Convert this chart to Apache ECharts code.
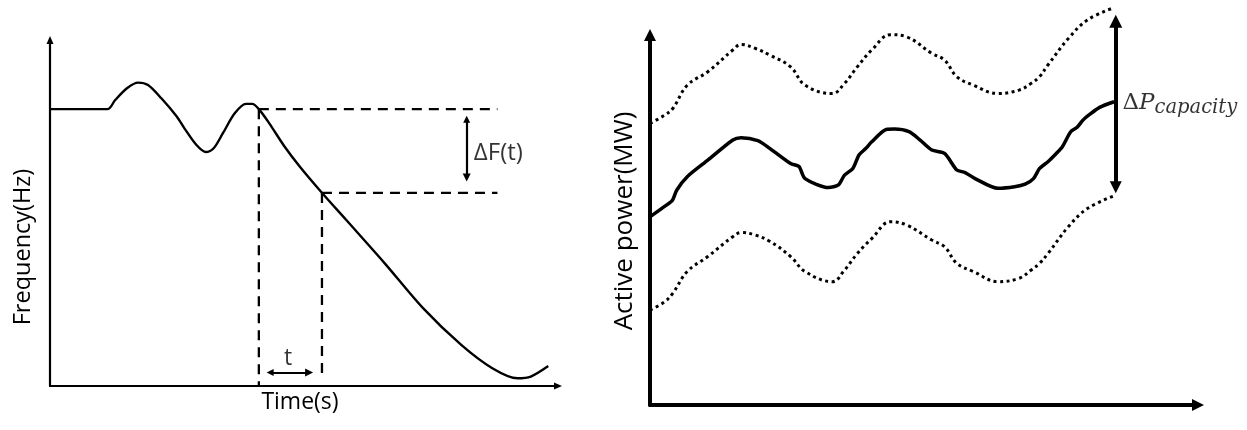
<!DOCTYPE html>
<html><head><meta charset="utf-8">
<script src="https://cdn.jsdelivr.net/npm/echarts@6/dist/echarts.min.js"></script>
<style>html,body{margin:0;padding:0;background:#fff}#c{width:1247px;height:430px}</style>
</head><body><div id="c"></div>
<script>
// ---------- Left panel: frequency vs time (arbitrary units 0..100) ----------
const freqX = [0, 11.2, 12.7, 15.0, 17.2, 19.1, 21.7, 24.7, 26.2, 28.5, 30.4, 31.9, 33.7, 36.0, 38.2, 39.4, 40.7, 42.7, 45.7, 48.7, 52.9, 57.7, 65.2, 72.7, 80.2, 86.2, 91.1, 93.7, 97.1];
const freqY = [79.3, 79.3, 81.9, 85.3, 86.9, 86.2, 82.4, 77.2, 73.8, 69.1, 67.0, 68.1, 72.4, 78.1, 80.8, 80.8, 79.3, 75.3, 68.6, 62.8, 55.5, 47.6, 35.2, 22.3, 11.7, 5.1, 2.2, 2.7, 5.7];
// dashed guide lines [x1, y1, x2, y2]
const guideTop = [40.7, 79.3, 87.2, 79.3];
const guideLow = [53.0, 55.3, 87.2, 55.3];
const guideV1 = [40.7, 79.3, 40.7, 0];
const guideV2 = [53.0, 55.3, 53.0, 3.2];
// double arrows [x1, y1, x2, y2]
const deltaFArrow = [81.2, 76.4, 81.2, 59.7];
const tArrow = [42.9, 3.9, 50.5, 3.9];
// annotation anchors
const deltaFLabelPos = [82.6, 66.8];
const tLabelPos = [46.4, 8.0];

// ---------- Right panel: active power (arbitrary units 0..100) ----------
const boundX = [0, 2.6, 4.1, 6.7, 10.4, 14.9, 16.4, 19.0, 21.6, 25.3, 27.9, 32.8, 35.0, 37.3, 39.9, 43.3, 46.2, 50.7, 53.0, 55.2, 58.2, 62.6, 66.4, 68.6, 70.1, 71.6, 75.3, 78.7, 83.5];
const upperY = [75.1, 77.3, 79.1, 85.3, 88.9, 94.7, 96.2, 95.1, 93.3, 90.2, 85.3, 83.1, 85.8, 90.2, 94.7, 98.8, 98.2, 93.8, 92.0, 87.6, 85.3, 83.1, 84.0, 85.8, 87.6, 90.7, 97.8, 102.7, 106.0];
const lowerY = [25.3, 27.5, 29.8, 35.6, 39.6, 44.9, 46.0, 45.3, 43.6, 39.6, 35.6, 32.9, 36.0, 40.4, 44.4, 48.9, 48.0, 44.0, 42.2, 37.8, 35.6, 32.9, 33.8, 36.0, 37.8, 40.4, 47.6, 52.4, 55.8];
const powerX = [0, 2.95, 4.07, 4.8, 6.7, 10.4, 14.9, 16.4, 19.4, 21.6, 25.3, 26.8, 27.9, 32.1, 33.9, 35.0, 36.5, 37.6, 38.8, 39.9, 42.5, 44.0, 46.6, 48.5, 50.7, 53.0, 55.2, 56.7, 58.5, 62.6, 65.6, 67.5, 69.0, 70.1, 71.6, 73.1, 74.2, 75.7, 76.8, 77.9, 79.1, 80.9, 83.5];
const powerY = [50.2, 53.3, 54.7, 57.3, 60.9, 65.3, 70.7, 71.3, 70.5, 68.4, 64.4, 63.6, 60.4, 58.0, 58.7, 61.3, 63.1, 66.7, 68.4, 70.2, 73.5, 73.6, 72.9, 70.8, 68.0, 67.1, 62.7, 62.0, 60.4, 57.8, 58.2, 58.9, 60.4, 63.1, 64.9, 67.1, 68.9, 72.9, 74.0, 76.0, 77.5, 79.4, 80.9];
const capacityArrow = [83.8, 102.4, 83.8, 58.1];
const capacityLabelPos = [85.0, 80.5];

// ---------- Text ----------
const leftYTitle = 'Frequency(Hz)';
const leftXTitle = 'Time(s)';
const rightYTitle = 'Active power(MW)';

const zip = (xs, ys) => xs.map((x, i) => [x, ys[i]]);
const seg = a => [[a[0], a[1]], [a[2], a[3]]];
const SANS = '"Open Sans", "Noto Sans", sans-serif';
const SERIF = '"DejaVu Serif", "Liberation Serif", serif';

function axis(grid, max, width, arrow) {
  return {
    type: 'value', gridIndex: grid, min: 0, max: max,
    axisLine: { show: true, onZero: false, symbol: ['none', 'triangle'], symbolSize: arrow,
      lineStyle: { color: '#000', width: width } },
    axisTick: { show: false }, axisLabel: { show: false }, splitLine: { show: false }
  };
}
function dashed(a) {
  return { type: 'line', xAxisIndex: 0, yAxisIndex: 0, data: seg(a), symbol: 'none', silent: true,
    lineStyle: { color: '#000', width: 2.3, type: [10, 7] } };
}
function dblArrow(g, a, w, size) {
  return { type: 'lines', coordinateSystem: 'cartesian2d', xAxisIndex: g, yAxisIndex: g, clip: false, silent: true,
    symbol: ['triangle', 'triangle'], symbolSize: size,
    lineStyle: { color: '#000', width: w, opacity: 1, curveness: 0 },
    data: [{ coords: seg(a) }] };
}
function textAt(g, pos, fmt, extra) {
  return { type: 'scatter', xAxisIndex: g, yAxisIndex: g, data: [pos], symbolSize: 0, silent: true, clip: false,
    label: Object.assign({ show: true, position: 'right', distance: 0, formatter: fmt, color: '#000',
      fontFamily: SANS, fontSize: 24 }, extra || {}) };
}

const chart = echarts.init(document.getElementById('c'), null, { renderer: 'canvas' });
chart.setOption({
  animation: false,
  backgroundColor: '#fff',
  grid: [
    { left: 50, right: 689, top: 40, bottom: 44 },
    { left: 650, right: 49, top: 35, bottom: 25 }
  ],
  xAxis: [axis(0, 99.0, 2.2, [7, 8]), axis(1, 98.6, 4, [12, 12])],
  yAxis: [axis(0, 99.1, 2.2, [7, 8]), axis(1, 98.7, 4, [12, 12])],
  graphic: [
    { type: 'text', x: 23, y: 247, rotation: Math.PI / 2,
      style: { text: leftYTitle, font: '23.5px ' + SANS, fill: '#000', align: 'center', verticalAlign: 'middle' } },
    { type: 'text', x: 300, y: 402,
      style: { text: leftXTitle, font: '23px ' + SANS, fill: '#000', align: 'center', verticalAlign: 'middle' } },
    { type: 'text', x: 625, y: 221, rotation: Math.PI / 2,
      style: { text: rightYTitle, font: '26px ' + SANS, fill: '#000', align: 'center', verticalAlign: 'middle' } }
  ],
  series: [
    { type: 'line', xAxisIndex: 0, yAxisIndex: 0, data: zip(freqX, freqY), smooth: 0.3, symbol: 'none', silent: true,
      lineStyle: { color: '#000', width: 2.4 } },
    dashed(guideTop), dashed(guideLow), dashed(guideV1), dashed(guideV2),
    dblArrow(0, deltaFArrow, 2.2, [7, 8]),
    dblArrow(0, tArrow, 2.2, [7, 8]),
    textAt(0, deltaFLabelPos, 'ΔF(t)'),
    textAt(0, tLabelPos, 't', { position: 'inside', fontSize: 23 }),

    { type: 'line', xAxisIndex: 1, yAxisIndex: 1, data: zip(boundX, upperY), smooth: 0.4, symbol: 'none', silent: true, clip: false,
      lineStyle: { color: '#000', width: 3, type: [3, 3.5] } },
    { type: 'line', xAxisIndex: 1, yAxisIndex: 1, data: zip(boundX, lowerY), smooth: 0.4, symbol: 'none', silent: true, clip: false,
      lineStyle: { color: '#000', width: 3, type: [3, 3.5] } },
    { type: 'line', xAxisIndex: 1, yAxisIndex: 1, data: zip(powerX, powerY), smooth: 0.25, symbol: 'none', silent: true, clip: false,
      lineStyle: { color: '#000', width: 3.5 } },
    dblArrow(1, capacityArrow, 4, [13, 12]),
    textAt(1, capacityLabelPos, '{d|Δ}{p|P}{s|capacity}', {
      rich: {
        d: { fontFamily: SERIF, fontSize: 23, color: '#000' },
        p: { fontFamily: SERIF, fontSize: 23, fontStyle: 'italic', color: '#000' },
        s: { fontFamily: SERIF, fontSize: 19.5, fontStyle: 'italic', color: '#000', padding: [10, 0, 0, 0] }
      }
    })
  ]
});
</script>
</body></html>
